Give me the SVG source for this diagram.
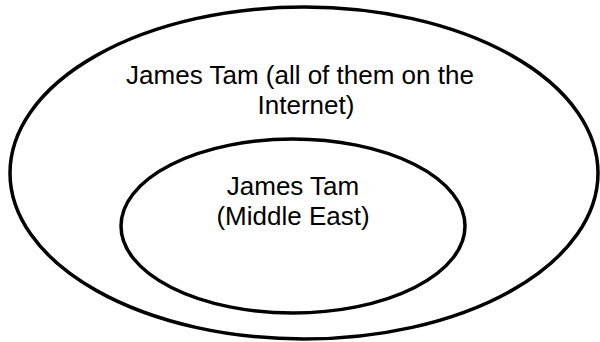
<svg xmlns="http://www.w3.org/2000/svg" width="600" height="342" viewBox="0 0 600 342">
<style>
.shape{fill:none;stroke:#000;stroke-width:3.5}
.lbl{font-family:"Liberation Sans",Arial,sans-serif;font-size:26px;fill:#000;text-anchor:middle}
</style>
<rect width="600" height="342" fill="#fff"/>
<g id="outer">
<ellipse class="shape" cx="304" cy="173" rx="294" ry="166"/>
<text class="lbl" x="300" y="84">James Tam (all of them on the</text>
<text class="lbl" x="306" y="114">Internet)</text>
</g>
<g id="inner">
<ellipse class="shape" cx="293" cy="226" rx="172" ry="87"/>
<text class="lbl" x="293" y="195">James Tam</text>
<text class="lbl" x="293" y="225">(Middle East)</text>
</g>
<g id="connectors"/>
</svg>
